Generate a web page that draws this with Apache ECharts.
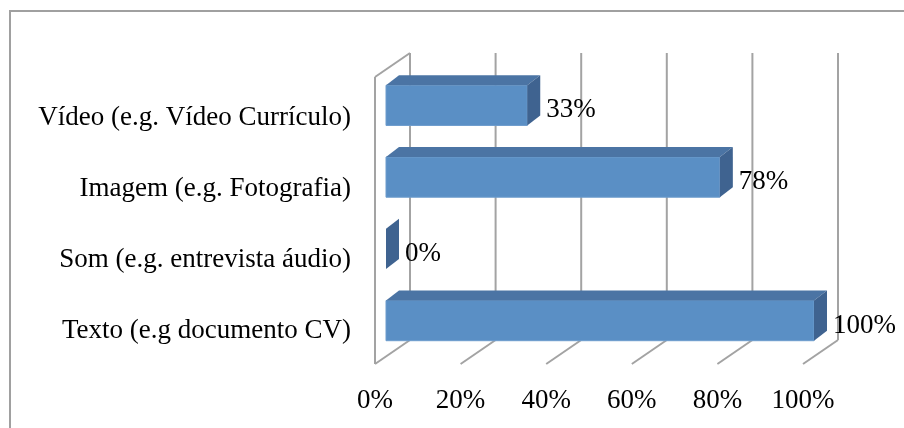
<!DOCTYPE html>
<html>
<head>
<meta charset="utf-8">
<script src="https://cdn.jsdelivr.net/npm/echarts@6/dist/echarts.min.js"></script>
<style>
  html, body { margin: 0; padding: 0; background: #fff; }
  #chart { width: 904px; height: 428px; }
</style>
</head>
<body>
<div id="chart"></div>
<script>
// Categories listed bottom to top, as they sit on the value floor
const categories = [
  'Texto (e.g documento CV)',
  'Som (e.g. entrevista áudio)',
  'Imagem (e.g. Fotografia)',
  'Vídeo (e.g. Vídeo Currículo)'
];
const shares = [100, 0, 78, 33];
const tickValues = [0, 20, 40, 60, 80, 100];

const FONT = 'Liberation Serif';
const FONT_SIZE = 27;

// Oblique depth of the box (back wall offset) and of the bars
const WALL_DX = 35, WALL_DY = -24;
const BAR_IN_DX = 11, BAR_IN_DY = -7.5;
const BAR_DX = 13, BAR_DY = -10;
const GRID_COLOR = '#a3a3a3';

const chart = echarts.init(document.getElementById('chart'));

function renderFrame(params, api) {
  const t = api.value(0);
  const cs = params.coordSys;
  const bottom = cs.y + cs.height;
  const top = cs.y;
  const x = api.coord([t, 0])[0];
  const style = { stroke: GRID_COLOR, lineWidth: 2, fill: null };
  const children = [
    // floor line running back into depth
    { type: 'line', shape: { x1: x, y1: bottom, x2: x + WALL_DX, y2: bottom + WALL_DY }, style },
    // vertical line on the back wall
    { type: 'line', shape: { x1: x + WALL_DX, y1: bottom + WALL_DY, x2: x + WALL_DX, y2: top + WALL_DY }, style }
  ];
  if (t === tickValues[0]) {
    // side wall outline
    children.push(
      { type: 'line', shape: { x1: x, y1: bottom, x2: x, y2: top }, style },
      { type: 'line', shape: { x1: x, y1: top, x2: x + WALL_DX, y2: top + WALL_DY }, style }
    );
  }
  return { type: 'group', children };
}

function renderBar(params, api) {
  const v = api.value(0);
  const c = api.value(1);
  const p0 = api.coord([0, c]);
  const p1 = api.coord([v, c]);
  const band = api.size([0, 1])[1];
  const h = band * 0.56;
  const x0 = p0[0] + BAR_IN_DX;
  const x1 = p1[0] + BAR_IN_DX;
  const yT = p0[1] + BAR_IN_DY - h / 2;
  const yB = yT + h;
  const children = [];
  if (x1 > x0) {
    children.push({
      type: 'rect',
      shape: { x: x0, y: yT, width: x1 - x0, height: h },
      style: { fill: '#5a8fc5', stroke: '#6d9ccd', lineWidth: 1 }
    });
    children.push({
      type: 'polygon',
      shape: { points: [[x0, yT], [x1, yT], [x1 + BAR_DX, yT + BAR_DY], [x0 + BAR_DX, yT + BAR_DY]] },
      style: { fill: '#4b74a4' }
    });
  }
  children.push({
    type: 'polygon',
    shape: { points: [[x1, yT], [x1 + BAR_DX, yT + BAR_DY], [x1 + BAR_DX, yB + BAR_DY], [x1, yB]] },
    style: { fill: '#3f6390' }
  });
  children.push({
    type: 'text',
    style: {
      text: v + '%',
      x: x1 + BAR_DX + 6,
      y: p0[1] + BAR_IN_DY + 5,
      textVerticalAlign: 'middle',
      verticalAlign: 'middle',
      align: 'left',
      fill: '#000',
      fontFamily: FONT,
      fontSize: FONT_SIZE
    }
  });
  return { type: 'group', children };
}

const hiddenAxis = {
  axisLine: { show: false },
  axisTick: { show: false },
  splitLine: { show: false },
  axisLabel: { show: false }
};

chart.setOption({
  animation: false,
  backgroundColor: '#fff',
  graphic: [{
    type: 'rect',
    shape: { x: 10, y: 11, width: 1000, height: 600 },
    style: { fill: null, stroke: '#a0a0a0', lineWidth: 2 },
    silent: true
  }],
  grid: [
    // plot box (front plane of the floor)
    { left: 375, top: 77, width: 428, height: 287 },
    // category captions sit a little lower, on the mid-depth plane
    { left: 375, top: 82, width: 428, height: 284 }
  ],
  xAxis: [
    {
      type: 'value',
      gridIndex: 0,
      min: 0,
      max: 100,
      interval: 20,
      axisLine: { show: false },
      axisTick: { show: false },
      splitLine: { show: false },
      axisLabel: {
        formatter: '{value}%',
        color: '#000',
        fontFamily: FONT,
        fontSize: FONT_SIZE,
        margin: 23
      }
    },
    Object.assign({ type: 'value', gridIndex: 1, min: 0, max: 100 }, hiddenAxis)
  ],
  yAxis: [
    Object.assign({ type: 'category', gridIndex: 0, data: categories }, hiddenAxis),
    {
      type: 'category',
      gridIndex: 1,
      data: categories,
      axisLine: { show: false },
      axisTick: { show: false },
      splitLine: { show: false },
      axisLabel: {
        color: '#000',
        fontFamily: FONT,
        fontSize: FONT_SIZE,
        margin: 24
      }
    }
  ],
  series: [
    {
      type: 'custom',
      name: 'frame',
      renderItem: renderFrame,
      data: tickValues.map(t => [t]),
      silent: true,
      z: 1
    },
    {
      type: 'custom',
      name: 'shares',
      renderItem: renderBar,
      encode: { x: 0, y: 1 },
      data: shares.map((v, i) => [v, i]),
      z: 2
    }
  ]
});
</script>
</body>
</html>
